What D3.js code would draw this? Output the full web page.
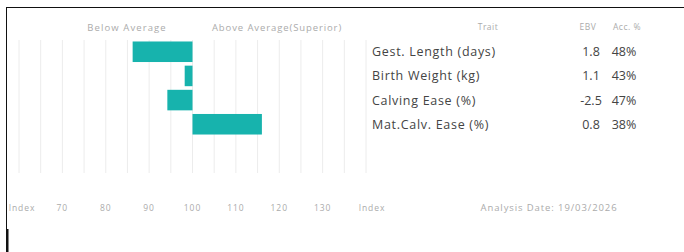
<!DOCTYPE html>
<html>
<head>
<meta charset="utf-8">
<script src="https://cdn.jsdelivr.net/npm/d3@7"></script>
<style>
  html, body { margin: 0; padding: 0; background: #fff; }
  svg { display: block; font-family: "Open Sans", sans-serif; }
</style>
</head>
<body>
<svg id="chart" width="684" height="252"></svg>
<script>
// chart data
const traits  = ['Gest. Length (days)', 'Birth Weight (kg)', 'Calving Ease (%)', 'Mat.Calv. Ease (%)'];
const indexes = [86.2, 98.2, 94.2, 116];
const ebvs    = ['1.8', '1.1', '-2.5', '0.8'];
const accs    = ['48%', '43%', '47%', '38%'];
const ticks   = [60, 70, 80, 90, 100, 110, 120, 130, 140];
const grid    = d3.range(60, 141, 5);
const analysisDate = '19/03/2026';

const svg = d3.select('#chart');

const x = d3.scaleLinear().domain([60, 140]).range([19, 366]);
const y = d3.scaleBand().domain(traits).range([41, 135]).paddingInner(0.15).paddingOuter(0.02);

// frame
svg.append('line').attr('x1', 6).attr('x2', 684).attr('y1', 7.5).attr('y2', 7.5)
  .attr('stroke', '#111').attr('stroke-width', 1.2);
svg.append('line').attr('x1', 6.5).attr('x2', 6.5).attr('y1', 7).attr('y2', 252)
  .attr('stroke', '#111').attr('stroke-width', 1);
svg.append('rect').attr('x', 6).attr('y', 229).attr('width', 2.5).attr('height', 23).attr('fill', '#111');

// grid
svg.append('g')
  .selectAll('line')
  .data(grid)
  .enter()
  .append('line')
    .attr('x1', (d) => x(d))
    .attr('x2', (d) => x(d))
    .attr('y1', 40)
    .attr('y2', 173)
    .attr('stroke', '#ececec')
    .attr('stroke-width', 1);

// headers
const muted = '#ababab';
svg.append('text').attr('x', 127).attr('y', 31).attr('text-anchor', 'middle')
  .attr('fill', muted).style('font-size', '9.5px').style('letter-spacing', '1.1px').text('Below Average');
svg.append('text').attr('x', 277).attr('y', 31).attr('text-anchor', 'middle')
  .attr('fill', muted).style('font-size', '9.5px').style('letter-spacing', '0.9px').text('Above Average(Superior)');
svg.append('text').attr('x', 488).attr('y', 30).attr('text-anchor', 'middle')
  .attr('fill', muted).style('font-size', '8.5px').style('letter-spacing', '0.5px').text('Trait');
svg.append('text').attr('x', 588).attr('y', 30).attr('text-anchor', 'middle')
  .attr('fill', muted).style('font-size', '8.5px').style('letter-spacing', '0.5px').text('EBV');
svg.append('text').attr('x', 627).attr('y', 30).attr('text-anchor', 'middle')
  .attr('fill', muted).style('font-size', '8.5px').style('letter-spacing', '0.5px').text('Acc. %');

// bars
svg.append('g')
  .selectAll('rect')
  .data(traits)
  .enter()
  .append('rect')
    .attr('x', (d, i) => x(Math.min(indexes[i], 100)))
    .attr('y', (d) => y(d))
    .attr('width', (d, i) => Math.abs(x(indexes[i]) - x(100)))
    .attr('height', y.bandwidth())
    .attr('fill', '#17b3ad');

// table rows
const rows = svg.append('g')
  .selectAll('g')
  .data(traits)
  .enter()
  .append('g')
    .attr('transform', (d) => `translate(0, ${y(d) + y.bandwidth() / 2 + 4.5})`)
    .attr('fill', '#444')
    .style('font-size', '12.5px');

rows.append('text').attr('x', 372).style('letter-spacing', '0.7px').text((d) => d);
rows.append('text').attr('x', 591).attr('text-anchor', 'middle').text((d, i) => ebvs[i]);
rows.append('text').attr('x', 624).attr('text-anchor', 'middle').text((d, i) => accs[i]);

// axis labels
svg.append('g')
  .selectAll('text')
  .data(ticks)
  .enter()
  .append('text')
    .attr('x', (d) => x(d) + (d === 60 ? 3 : d === 140 ? 6 : 0))
    .attr('y', 211)
    .attr('text-anchor', 'middle')
    .attr('fill', muted)
    .style('font-size', '8.5px')
    .style('letter-spacing', '0.9px')
    .text((d) => (d === 60 || d === 140 ? 'Index' : d));

svg.append('text').attr('x', 549).attr('y', 211).attr('text-anchor', 'middle')
  .attr('fill', muted).style('font-size', '9.5px').style('letter-spacing', '0.9px')
  .text(`Analysis Date: ${analysisDate}`);
</script>
</body>
</html>
